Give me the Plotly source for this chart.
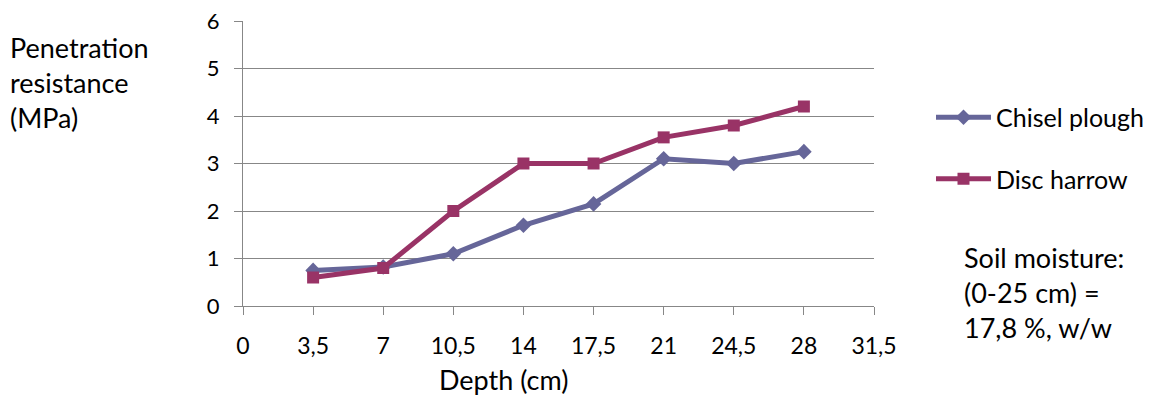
import plotly.graph_objects as go

depth = [3.5, 7, 10.5, 14, 17.5, 21, 24.5, 28]
chisel = [0.75, 0.82, 1.1, 1.7, 2.15, 3.1, 3.0, 3.25]
disc = [0.6, 0.8, 2.0, 3.0, 3.0, 3.55, 3.8, 4.2]
x_ticks = [0, 3.5, 7, 10.5, 14, 17.5, 21, 24.5, 28, 31.5]
x_labels = ["0", "3,5", "7", "10,5", "14", "17,5", "21", "24,5", "28", "31,5"]
y_ticks = [0, 1, 2, 3, 4, 5, 6]

FONT = "Lato, Carlito, Calibri, sans-serif"
GRID = "#878787"

# page has an 8px body offset; plot area in page pixels: x 243..874, y 21..306
W, H = 1144, 388
X0, X1, Y0, Y1 = 243, 874, 21, 306
PW, PH = X1 - X0, Y1 - Y0


def px(x):
    return (x - X0) / PW


def py(y):
    return (Y1 - y) / PH


fig = go.Figure()
fig.add_trace(go.Scatter(
    x=depth, y=chisel, mode="lines+markers", name="Chisel plough",
    line=dict(color="#666699", width=5),
    marker=dict(symbol="diamond", size=12, color="#666699"),
    legendgroup="a",
))
fig.add_trace(go.Scatter(
    x=depth, y=disc, mode="lines+markers", name="Disc harrow",
    line=dict(color="#993366", width=5),
    marker=dict(symbol="square", size=12, color="#993366"),
    legendgroup="b",
))

fig.update_layout(
    width=W, height=H,
    margin=dict(l=X0 - 8, r=W - (X1 - 8), t=Y0 - 8, b=H - (Y1 - 8), autoexpand=False),
    paper_bgcolor="white", plot_bgcolor="white",
    font=dict(family=FONT, size=23, color="#000000"),
    legend=dict(x=px(931), y=py(148), xanchor="left", yanchor="middle",
                font=dict(size=25), bgcolor="rgba(0,0,0,0)", itemwidth=55,
                tracegroupgap=26, traceorder="grouped"),
    xaxis=dict(
        range=[0, 31.5], tickvals=x_ticks, ticktext=x_labels, automargin=False,
        showgrid=False, zeroline=False, showline=True, linecolor=GRID, linewidth=1,
        ticks="outside", ticklen=8, tickcolor=GRID,
        ticklabelstandoff=11, tickfont=dict(size=23), ticklabeloverflow="allow",
    ),
    yaxis=dict(
        range=[0, 6], tickvals=y_ticks, automargin=False,
        showgrid=True, gridcolor=GRID, gridwidth=1, zeroline=False,
        showline=True, linecolor=GRID, linewidth=1,
        ticks="outside", ticklen=8, tickcolor=GRID,
        ticklabelstandoff=10, tickfont=dict(size=22), ticklabeloverflow="allow",
    ),
    annotations=[
        dict(text="Depth (cm)", xref="paper", yref="paper", x=px(503), y=py(379),
             xanchor="center", yanchor="middle", showarrow=False, font=dict(size=27)),
        dict(text="Penetration<br>resistance<br>(MPa)", xref="paper", yref="paper",
             x=px(8), y=py(82), xanchor="left", yanchor="middle",
             align="left", showarrow=False, font=dict(size=27)),
        dict(text="Soil moisture:<br>(0-25 cm) =<br>17,8 %, w/w", xref="paper", yref="paper",
             x=px(962), y=py(292), xanchor="left", yanchor="middle",
             align="left", showarrow=False, font=dict(size=27)),
    ],
)

fig.write_html("out.html")
